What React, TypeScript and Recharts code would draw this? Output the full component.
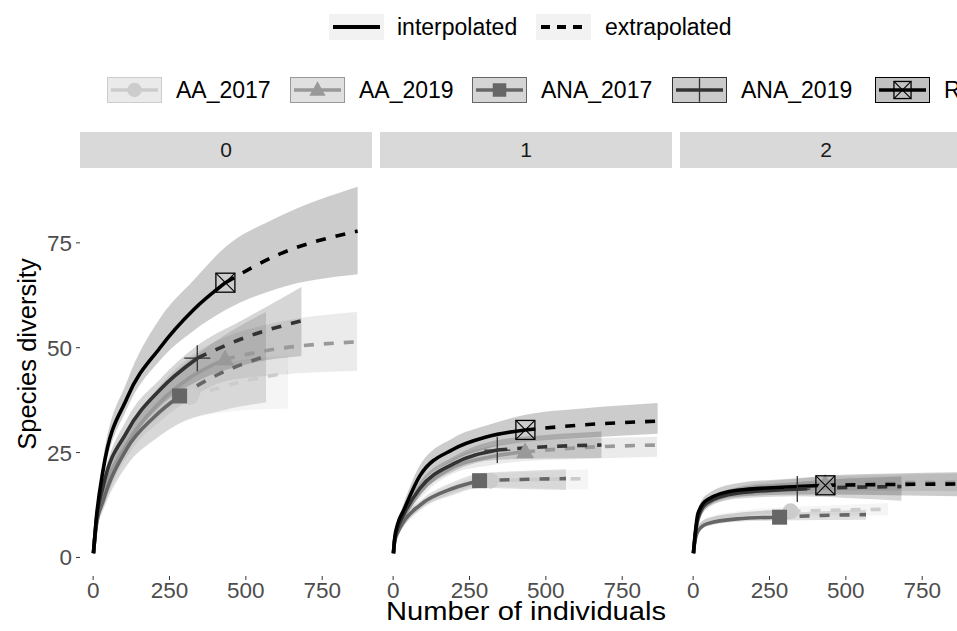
import React from 'react';
import { ComposedChart, Line, Area, Scatter, XAxis, YAxis } from 'recharts';

// sites (legend order) and their styling
const sites = ['AA_2017', 'AA_2019', 'ANA_2017', 'ANA_2019', 'R'];
const siteColors = ['#cccccc', '#999999', '#666666', '#333333', '#000000'];
const siteShapes = ['circle', 'triangle', 'square', 'plus', 'boxx'];
// observed number of individuals per site (reference sample size)
const sampleSize = [319, 432, 283, 341, 433];
const orders = ['0', '1', '2'];
const xTicks = [0, 250, 500, 750];
const yTicks = [0, 25, 50, 75];

// rows: [individuals, estimate, lower CI, upper CI]
type Row = [number, number, number, number];

// q = 0
const q0_AA_2017: Row[] = [[1, 1, 1, 1], [10, 7.5, 6.5, 8.5], [33, 13, 11, 15], [111, 25, 22, 28], [219, 33, 29, 37], [319, 38.3, 33, 43.5], [480, 41.8, 35, 47], [638, 44, 35.5, 48]];
const q0_AA_2019: Row[] = [[1, 1, 1, 1], [10, 8, 7, 9], [33, 15, 13, 17], [111, 27, 24, 30], [219, 37, 33, 41], [320, 43, 38, 48], [432, 47.3, 42, 52.5], [600, 49.7, 43.5, 56], [864, 51.4, 44.5, 58.5]];
const q0_ANA_2017: Row[] = [[1, 1, 1, 1], [10, 7.5, 6.5, 8.5], [33, 13.5, 11.5, 15.5], [111, 26, 22, 30], [200, 33.5, 28, 39], [283, 38.5, 32, 45], [420, 44, 35, 52.5], [566, 48, 37, 58.5]];
const q0_ANA_2019: Row[] = [[1, 1, 1, 1], [10, 8.5, 7.5, 9.5], [33, 17, 15, 18.5], [111, 30, 26.5, 33], [219, 40, 36, 42.5], [341, 47.5, 42, 50.5], [500, 52.5, 46, 57], [682, 56.4, 48, 64.5]];
const q0_R: Row[] = [[1, 1, 1, 1], [10, 9, 8.5, 10], [33, 21, 19, 23.5], [111, 38, 35.5, 42], [219, 50, 47, 57], [328, 59, 54, 66], [433, 65.5, 59, 74], [600, 72, 64, 81], [866, 77.8, 67.5, 88.4]];

// q = 1
const q1_AA_2017: Row[] = [[1, 1, 1, 1], [5, 3.8, 3.6, 4], [15, 5.8, 5.4, 6.2], [33, 8, 7.3, 8.7], [88, 12, 11, 13], [197, 16, 14.8, 17.3], [319, 18.3, 16.8, 19.9], [480, 18.6, 16.5, 20.5], [638, 18.8, 16.2, 21]];
const q1_AA_2019: Row[] = [[1, 1, 1, 1], [5, 4.2, 4, 4.4], [15, 7, 6.5, 7.5], [33, 9.5, 8.5, 10.5], [88, 15.5, 14, 17], [197, 21.5, 20, 23.5], [320, 24, 22, 26.5], [432, 25.2, 23, 27.5], [620, 26.2, 23.5, 28.3], [864, 26.8, 24, 28.8]];
const q1_ANA_2017: Row[] = [[1, 1, 1, 1], [5, 3.9, 3.7, 4.1], [15, 6, 5.6, 6.4], [33, 8.4, 7.6, 9.2], [88, 12.5, 11.5, 13.5], [197, 16.5, 15, 18], [283, 18.3, 16.6, 20], [420, 18.6, 16.3, 20.6], [566, 18.8, 16.1, 21]];
const q1_ANA_2019: Row[] = [[1, 1, 1, 1], [5, 4.2, 4, 4.4], [15, 7, 6.5, 7.5], [33, 10, 9, 11], [88, 16.5, 15, 18], [197, 22.3, 20.5, 24], [341, 25.6, 23.3, 28], [500, 26.4, 23.6, 29.2], [682, 26.8, 23.7, 30]];
const q1_R: Row[] = [[1, 1, 1, 1], [5, 4.5, 4.3, 4.7], [15, 8, 7.4, 8.6], [33, 11, 9.5, 12.5], [88, 19.5, 17, 22], [197, 25.8, 23, 28.5], [308, 28.8, 26, 31.5], [433, 30.4, 27.5, 34], [620, 31.6, 28.5, 35.5], [866, 32.5, 29.5, 36.8]];

// q = 2
const q2_AA_2017: Row[] = [[1, 1, 1, 1], [4, 3.1, 3, 3.2], [16, 6.8, 6.4, 7.2], [45, 8.8, 8.2, 9.4], [144, 10.2, 9.5, 11], [319, 11, 10, 12], [480, 11.3, 10, 12.5], [638, 11.5, 10, 13]];
const q2_AA_2019: Row[] = [[1, 1, 1, 1], [4, 3.4, 3.2, 3.6], [16, 9, 8.3, 9.7], [45, 12.5, 11.5, 13.5], [144, 15.5, 14.3, 16.8], [300, 17, 15.6, 18.5], [432, 17.6, 16, 19.2], [650, 17.8, 15.9, 19.7], [864, 17.9, 15.8, 20]];
const q2_ANA_2017: Row[] = [[1, 1, 1, 1], [4, 3.1, 3, 3.2], [16, 6.3, 5.9, 6.7], [45, 8, 7.4, 8.6], [144, 9.2, 8.5, 10], [283, 9.6, 8.8, 10.5], [420, 10, 8.9, 11], [566, 10.2, 9, 11.4]];
const q2_ANA_2019: Row[] = [[1, 1, 1, 1], [4, 3.4, 3.2, 3.6], [16, 9.5, 8.8, 10.2], [45, 13, 12, 14], [144, 15.3, 14, 16.6], [341, 16.3, 14.6, 18], [500, 16.7, 14.2, 18.8], [682, 16.9, 13.5, 19.3]];
const q2_R: Row[] = [[1, 1, 1, 1], [4, 3.5, 3.3, 3.7], [16, 10.5, 9.5, 11.5], [45, 13.7, 12.4, 15], [144, 16, 14.5, 17.7], [340, 16.9, 15, 18.9], [433, 17.2, 15, 19.5], [650, 17.4, 14.8, 20], [866, 17.5, 14.6, 20.3]];

const curves: Row[][][] = [
  [q0_AA_2017, q0_AA_2019, q0_ANA_2017, q0_ANA_2019, q0_R],
  [q1_AA_2017, q1_AA_2019, q1_ANA_2017, q1_ANA_2019, q1_R],
  [q2_AA_2017, q2_AA_2019, q2_ANA_2017, q2_ANA_2019, q2_R],
];

const FONT = '"Liberation Sans", Arial, Helvetica, sans-serif';
const PANEL_TOP = 168;
const PANEL_H = 408;

function marker(shape: string, color: string, cx: number, cy: number, s = 1) {
  switch (shape) {
    case 'circle':
      return <circle cx={cx} cy={cy} r={8 * s} fill={color} />;
    case 'triangle': {
      const w = 18 * s;
      const h = 16 * s;
      return (
        <polygon
          points={`${cx},${cy - h * 0.6} ${cx - w / 2},${cy + h * 0.4} ${cx + w / 2},${cy + h * 0.4}`}
          fill={color}
        />
      );
    }
    case 'square':
      return <rect x={cx - 7.5 * s} y={cy - 7.5 * s} width={15 * s} height={15 * s} fill={color} />;
    case 'plus': {
      const a = 13 * s;
      return <path d={`M${cx - a},${cy}H${cx + a}M${cx},${cy - a}V${cy + a}`} stroke={color} strokeWidth={1.3} fill="none" />;
    }
    default: {
      const a = 9.5 * s;
      return (
        <g>
          <rect x={cx - a} y={cy - a} width={2 * a} height={2 * a} fill="none" stroke={color} strokeWidth={1.3} />
          <path d={`M${cx - a},${cy - a}L${cx + a},${cy + a}M${cx + a},${cy - a}L${cx - a},${cy + a}`} stroke={color} strokeWidth={1.1} />
        </g>
      );
    }
  }
}

function Panel({ p, left, showY }: { p: number; left: number; showY: boolean }) {
  const width = showY ? 372 : 292;
  const series = sites.map((s, i) => {
    const rows = curves[p][i];
    const obs = sampleSize[i];
    return {
      name: s,
      color: siteColors[i],
      shape: siteShapes[i],
      interp: rows.filter((r) => r[0] <= obs).map((r) => ({ x: r[0], y: r[1] })),
      extrap: rows.filter((r) => r[0] >= obs).map((r) => ({ x: r[0], y: r[1] })),
      band: rows.map((r) => ({ x: r[0], lo: r[2], hi: r[3] })),
      point: rows.filter((r) => r[0] === obs).map((r) => ({ x: r[0], y: r[1] })),
    };
  });
  return (
    <div style={{ position: 'absolute', left, top: PANEL_TOP }}>
      <ComposedChart width={width} height={PANEL_H + 50} margin={{ top: 0, right: 0, bottom: 0, left: 0 }}>
        <XAxis
          type="number"
          dataKey="x"
          domain={[-43, 913]}
          ticks={xTicks}
          interval={0}
          allowDataOverflow
          height={50}
          axisLine={false}
          tickSize={4}
          tickMargin={2}
          tickLine={{ stroke: '#333333' }}
          tick={{ fill: '#4d4d4d', fontSize: 22.5, fontFamily: FONT }}
        />
        <YAxis
          type="number"
          domain={[-4.42, 92.84]}
          ticks={yTicks}
          interval={0}
          allowDataOverflow
          hide={!showY}
          width={80}
          axisLine={false}
          tickSize={4}
          tickMargin={4}
          tickLine={{ stroke: '#333333' }}
          tick={{ fill: '#4d4d4d', fontSize: 22.5, fontFamily: FONT }}
        />
        {series.map((s) => (
          <Scatter
            key={`pt-${s.name}`}
            data={s.point}
            dataKey="y"
            isAnimationActive={false}
            shape={(props: any) => <g>{marker(s.shape, s.color, props.cx, props.cy)}</g>}
          />
        ))}
        {series.map((s) => (
          <Line
            key={`in-${s.name}`}
            data={s.interp}
            dataKey="y"
            type="monotone"
            stroke={s.color}
            strokeWidth={3.6}
            dot={false}
            activeDot={false}
            isAnimationActive={false}
          />
        ))}
        {series.map((s) => (
          <Line
            key={`ex-${s.name}`}
            data={s.extrap}
            dataKey="y"
            type="monotone"
            stroke={s.color}
            strokeWidth={3.6}
            strokeDasharray="10 10"
            dot={false}
            activeDot={false}
            isAnimationActive={false}
          />
        ))}
        {series.map((s) => (
          <Area
            key={`ci-${s.name}`}
            data={s.band}
            dataKey={(d: any) => [d.lo, d.hi]}
            type="monotone"
            stroke="none"
            fill={s.color}
            fillOpacity={0.2}
            activeDot={false}
            isAnimationActive={false}
          />
        ))}
      </ComposedChart>
    </div>
  );
}

function KeyBox({ i }: { i: number }) {
  const c = siteColors[i];
  return (
    <svg width={55} height={26} style={{ display: 'block' }}>
      <rect x={0.5} y={0.5} width={54} height={25} fill="#f2f2f2" />
      <rect x={0.5} y={0.5} width={54} height={25} fill={c} fillOpacity={0.2} stroke={c} strokeWidth={1} />
      <line x1={4} y1={13} x2={51} y2={13} stroke={c} strokeWidth={3.6} />
      {marker(siteShapes[i], c, 27.5, 13, 0.9)}
    </svg>
  );
}

const strips = [80, 380, 680];
const legendKeyX = [107, 290, 472, 672, 875];

export default function App() {
  return (
    <div
      style={{
        position: 'absolute',
        left: 0,
        top: 0,
        width: 957,
        height: 631,
        overflow: 'hidden',
        background: '#ffffff',
        fontFamily: FONT,
      }}
    >
      {/* linetype legend */}
      <svg width={55} height={26} style={{ position: 'absolute', left: 329, top: 14 }}>
        <rect width={55} height={26} fill="#f2f2f2" />
        <line x1={4} y1={13} x2={51} y2={13} stroke="#000" strokeWidth={4} />
      </svg>
      <div style={{ position: 'absolute', left: 397, top: 13, fontSize: 23, lineHeight: '28px', color: '#000' }}>interpolated</div>
      <svg width={55} height={26} style={{ position: 'absolute', left: 536, top: 14 }}>
        <rect width={55} height={26} fill="#f2f2f2" />
        <line x1={5} y1={13} x2={51} y2={13} stroke="#000" strokeWidth={4} strokeDasharray="9 7" />
      </svg>
      <div style={{ position: 'absolute', left: 605, top: 13, fontSize: 23, lineHeight: '28px', color: '#000' }}>extrapolated</div>

      {/* site legend */}
      {sites.map((s, i) => (
        <React.Fragment key={s}>
          <div style={{ position: 'absolute', left: legendKeyX[i], top: 77 }}>
            <KeyBox i={i} />
          </div>
          <div style={{ position: 'absolute', left: legendKeyX[i] + 69, top: 76, fontSize: 23, lineHeight: '28px', color: '#000', whiteSpace: 'nowrap' }}>
            {s}
          </div>
        </React.Fragment>
      ))}

      {/* facet strips */}
      {orders.map((o, i) => (
        <div
          key={o}
          style={{
            position: 'absolute',
            left: strips[i],
            top: 132,
            width: 292,
            height: 36,
            background: '#d9d9d9',
            color: '#1a1a1a',
            fontSize: 21,
            lineHeight: '36px',
            textAlign: 'center',
          }}
        >
          {o}
        </div>
      ))}

      <Panel p={0} left={0} showY />
      <Panel p={1} left={380} showY={false} />
      <Panel p={2} left={680} showY={false} />

      {/* axis titles */}
      <div
        style={{
          position: 'absolute',
          left: 326,
          top: 601,
          width: 400,
          height: 20,
          textAlign: 'center',
          fontSize: 26,
          lineHeight: '20px',
          color: '#000',
          transform: 'scaleX(1.12)',
        }}
      >
        Number of individuals
      </div>
      <div
        style={{
          position: 'absolute',
          left: 27 - 150,
          top: 354 - 15,
          width: 300,
          height: 30,
          textAlign: 'center',
          fontSize: 25.5,
          lineHeight: '30px',
          color: '#000',
          transform: 'rotate(-90deg)',
        }}
      >
        Species diversity
      </div>
    </div>
  );
}
